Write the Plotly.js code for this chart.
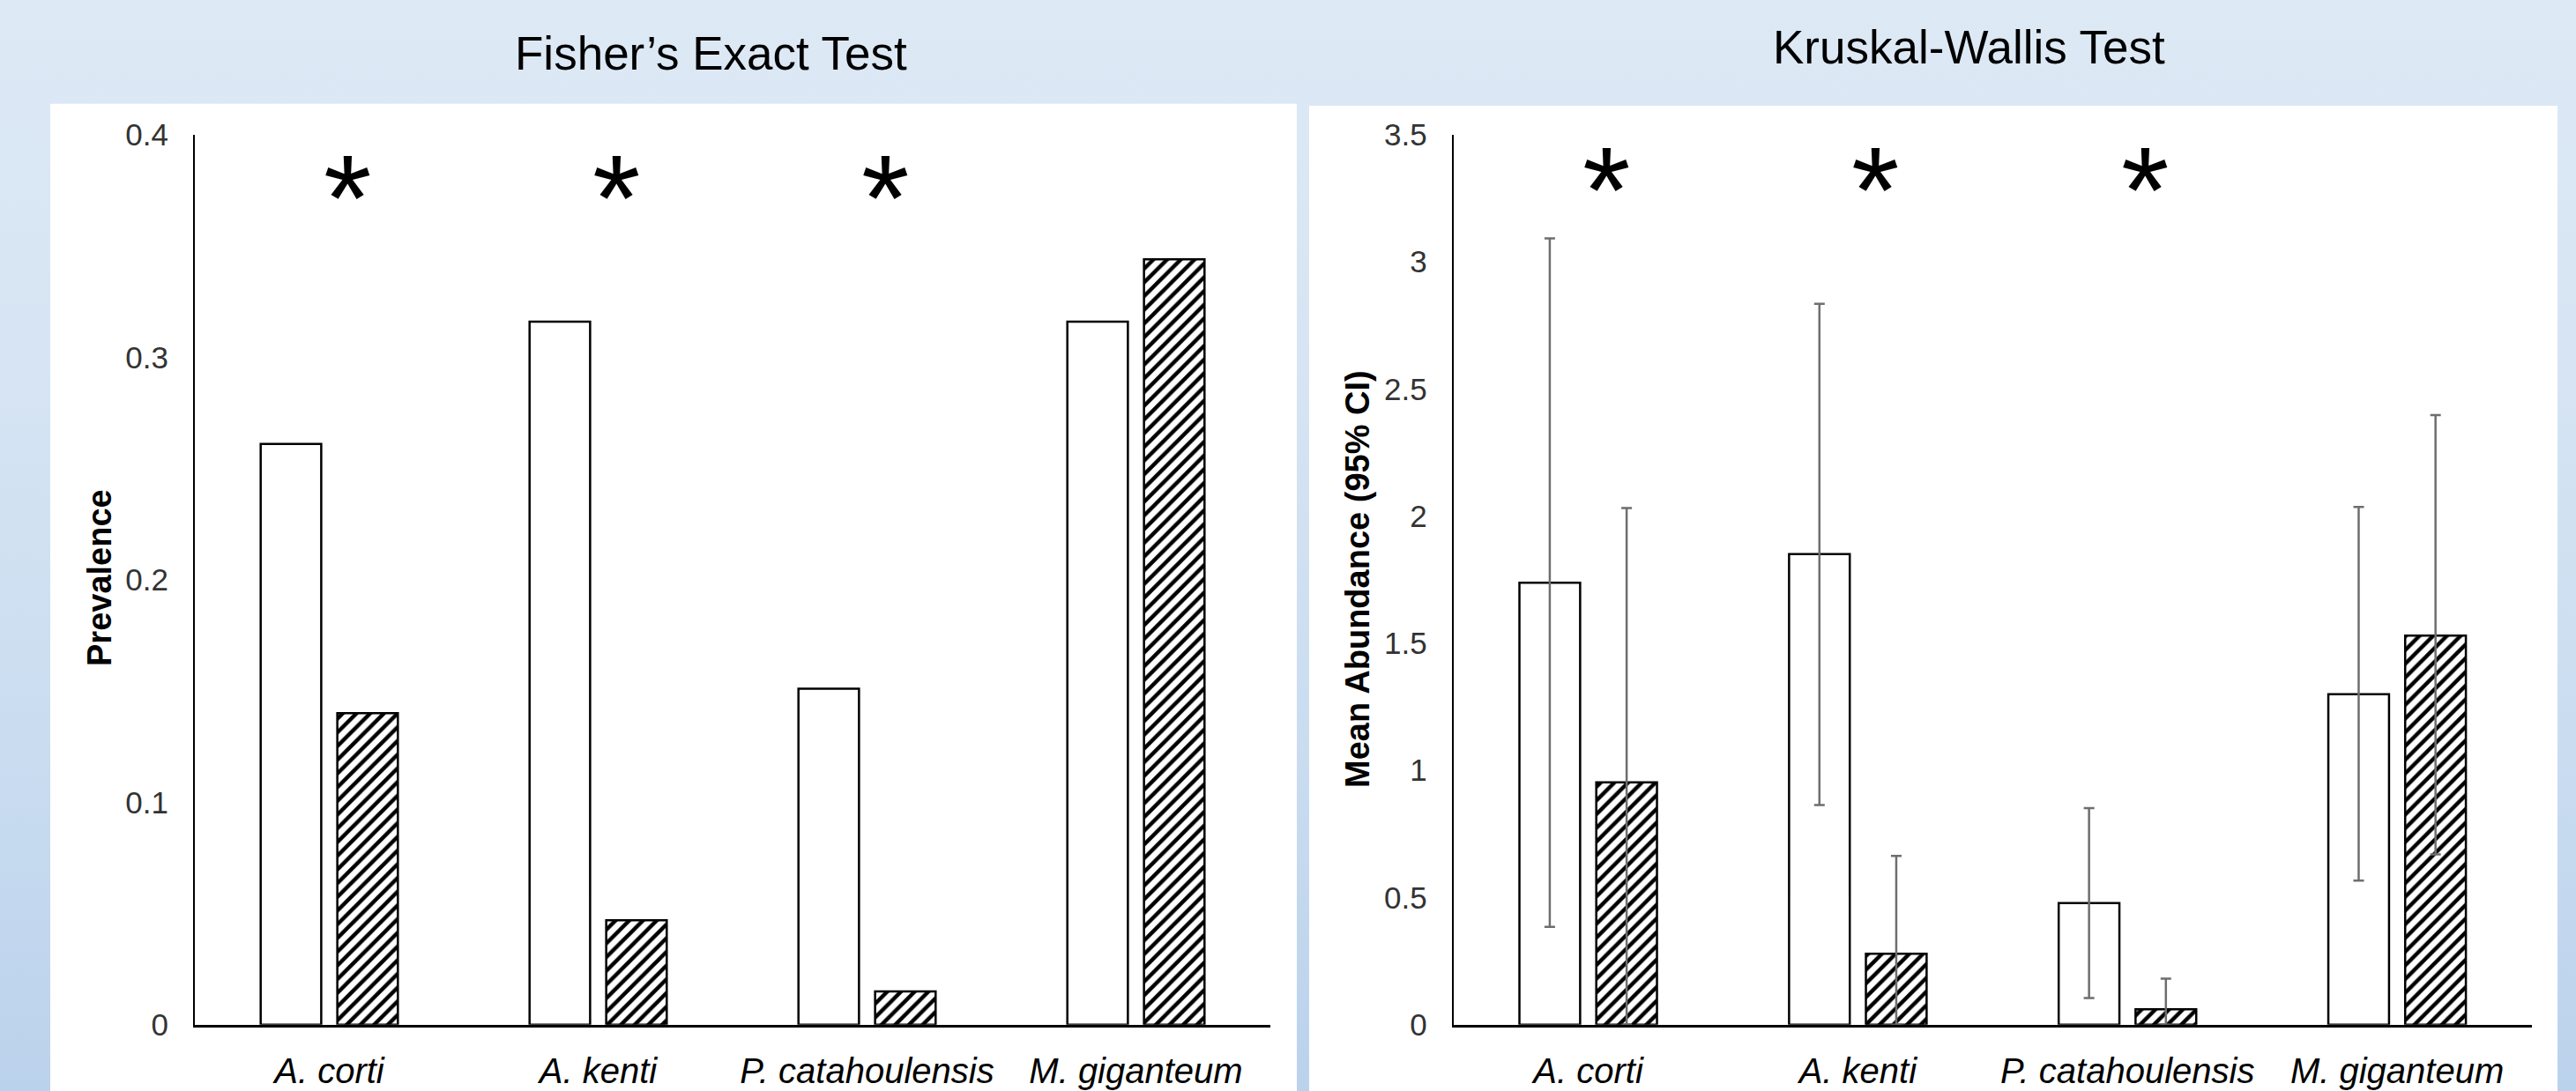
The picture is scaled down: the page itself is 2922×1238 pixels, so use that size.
<!DOCTYPE html>
<html>
<head>
<meta charset="utf-8">
<script src="https://cdn.plot.ly/plotly-3.0.1.min.js"></script>
<style>
  html, body { margin: 0; padding: 0; width: 2922px; height: 1238px; overflow: hidden; }
  body { background: linear-gradient(to bottom, #dde9f5 0%, #d6e4f3 35%, #c9dcf0 70%, #bbd2ec 100%); }
  #chart { width: 2922px; height: 1238px; }
</style>
</head>
<body>
<div id="chart"></div>
<script>
// ---- data ----
const categories = ['A. corti', 'A. kenti', 'P. catahoulensis', 'M. giganteum'];

const prevalenceOpen    = [0.261, 0.316, 0.151, 0.316];
const prevalenceHatched = [0.140, 0.047, 0.015, 0.344];

const abundanceOpen        = [1.738, 1.851, 0.478, 1.300];
const abundanceOpenUpper   = [3.092, 2.835, 0.852, 2.036];
const abundanceOpenLower   = [0.385, 0.864, 0.105, 0.567];
const abundanceHatched      = [0.953, 0.279, 0.061, 1.530];
const abundanceHatchedUpper = [2.032, 0.664, 0.181, 2.397];
const abundanceHatchedLower = [0.000, 0.000, 0.000, 0.670];

const fisherSignificant  = [true, true, true, false];
const kruskalSignificant = [true, true, true, false];

const prevalenceTicks = [0, 0.1, 0.2, 0.3, 0.4];
const abundanceTicks  = [0, 0.5, 1, 1.5, 2, 2.5, 3, 3.5];

const leftTitle  = 'Fisher\u2019s Exact Test';
const rightTitle = 'Kruskal-Wallis Test';
const leftYLabel  = 'Prevalence';
const rightYLabel = 'Mean Abundance (95% CI)';

// ---- styles ----
const W = 2922, H = 1238;
const FONT = 'Liberation Sans, Arial, Helvetica, sans-serif';
const px = v => v / W;
const py = v => (H - v) / H;

const openMarker = { color: '#ffffff', line: { color: '#000000', width: 2.5 } };
const hatchMarker = {
  color: '#ffffff',
  line: { color: '#000000', width: 2.5 },
  pattern: { shape: '/', fgcolor: '#000000', bgcolor: '#ffffff', size: 11, solidity: 0.4 }
};
const errStyle = { color: '#6e6e6e', thickness: 2.5, width: 6 };

const diff = (a, b) => a.map((v, i) => v - b[i]);

const traces = [
  { type: 'bar', name: 'Open', x: categories, y: prevalenceOpen, xaxis: 'x', yaxis: 'y',
    marker: openMarker, showlegend: false, hoverinfo: 'x+y' },
  { type: 'bar', name: 'Hatched', x: categories, y: prevalenceHatched, xaxis: 'x', yaxis: 'y',
    marker: hatchMarker, showlegend: false, hoverinfo: 'x+y' },
  { type: 'bar', name: 'Open', x: categories, y: abundanceOpen, xaxis: 'x2', yaxis: 'y2',
    marker: openMarker, showlegend: false, hoverinfo: 'x+y',
    error_y: Object.assign({ type: 'data', symmetric: false,
      array: diff(abundanceOpenUpper, abundanceOpen),
      arrayminus: diff(abundanceOpen, abundanceOpenLower) }, errStyle) },
  { type: 'bar', name: 'Hatched', x: categories, y: abundanceHatched, xaxis: 'x2', yaxis: 'y2',
    marker: hatchMarker, showlegend: false, hoverinfo: 'x+y',
    error_y: Object.assign({ type: 'data', symmetric: false,
      array: diff(abundanceHatchedUpper, abundanceHatched),
      arrayminus: diff(abundanceHatched, abundanceHatchedLower) }, errStyle) }
];

const yDomain = [py(1162.8), py(152.8)];

const xAxisBase = {
  type: 'category', showline: true, linecolor: '#000000', linewidth: 3,
  ticks: '', showgrid: false, zeroline: false, fixedrange: true,
  tickfont: { family: FONT, size: 40, color: '#000000', style: 'italic' },
  ticklabelstandoff: 15
};
const yAxisBase = {
  showline: true, linecolor: '#000000', linewidth: 2, ticks: '',
  showgrid: false, zeroline: false, fixedrange: true,
  tickfont: { family: FONT, size: 35, color: '#333333' },
  ticklabelstandoff: 21
};

const annotations = [
  { text: leftTitle, xref: 'paper', yref: 'paper', x: px(806), y: py(61), showarrow: false,
    xanchor: 'center', yanchor: 'middle', font: { family: FONT, size: 53, color: '#000000' } },
  { text: rightTitle, xref: 'paper', yref: 'paper', x: px(2233), y: py(53), showarrow: false,
    xanchor: 'center', yanchor: 'middle', font: { family: FONT, size: 53, color: '#000000' } },
  { text: '<b>' + leftYLabel + '</b>', xref: 'paper', yref: 'paper', x: px(113), y: py(656), showarrow: false,
    textangle: -90, xanchor: 'center', yanchor: 'middle', font: { family: FONT, size: 38, color: '#000000' } },
  { text: '<b>' + rightYLabel + '</b>', xref: 'paper', yref: 'paper', x: px(1540), y: py(657), showarrow: false,
    textangle: -90, xanchor: 'center', yanchor: 'middle', font: { family: FONT, size: 38, color: '#000000' } }
];

fisherSignificant.forEach((s, i) => {
  if (s) annotations.push({ text: '*', xref: 'x', yref: 'y domain', x: categories[i], y: 0.929,
    xshift: 20, showarrow: false, xanchor: 'center', yanchor: 'middle',
    font: { family: FONT, size: 140, color: '#000000' } });
});
kruskalSignificant.forEach((s, i) => {
  if (s) annotations.push({ text: '*', xref: 'x2', yref: 'y2 domain', x: categories[i], y: 0.938,
    xshift: 20, showarrow: false, xanchor: 'center', yanchor: 'middle',
    font: { family: FONT, size: 140, color: '#000000' } });
});

const layout = {
  width: W, height: H,
  margin: { l: 0, r: 0, t: 0, b: 0, pad: 0 },
  paper_bgcolor: 'rgba(0,0,0,0)', plot_bgcolor: 'rgba(0,0,0,0)',
  barmode: 'group', bargap: 0.43, bargroupgap: 0.21,
  showlegend: false,
  font: { family: FONT },
  xaxis: Object.assign({}, xAxisBase, { domain: [px(221), px(1441)], anchor: 'y' }),
  yaxis: Object.assign({}, yAxisBase, { domain: yDomain, range: [0, 0.4], tickvals: prevalenceTicks, anchor: 'x' }),
  xaxis2: Object.assign({}, xAxisBase, { domain: [px(1648.6), px(2872)], anchor: 'y2' }),
  yaxis2: Object.assign({}, yAxisBase, { domain: yDomain, range: [0, 3.5], tickvals: abundanceTicks, anchor: 'x2' }),
  shapes: [
    { type: 'rect', xref: 'paper', yref: 'paper', layer: 'below',
      x0: px(57), x1: px(1471), y0: -0.02, y1: py(117.7), fillcolor: '#ffffff', line: { width: 0 } },
    { type: 'rect', xref: 'paper', yref: 'paper', layer: 'below',
      x0: px(1485), x1: px(2901), y0: -0.02, y1: py(120), fillcolor: '#ffffff', line: { width: 0 } }
  ],
  annotations: annotations
};

Plotly.newPlot('chart', traces, layout, { displayModeBar: false, staticPlot: true });
</script>
</body>
</html>
